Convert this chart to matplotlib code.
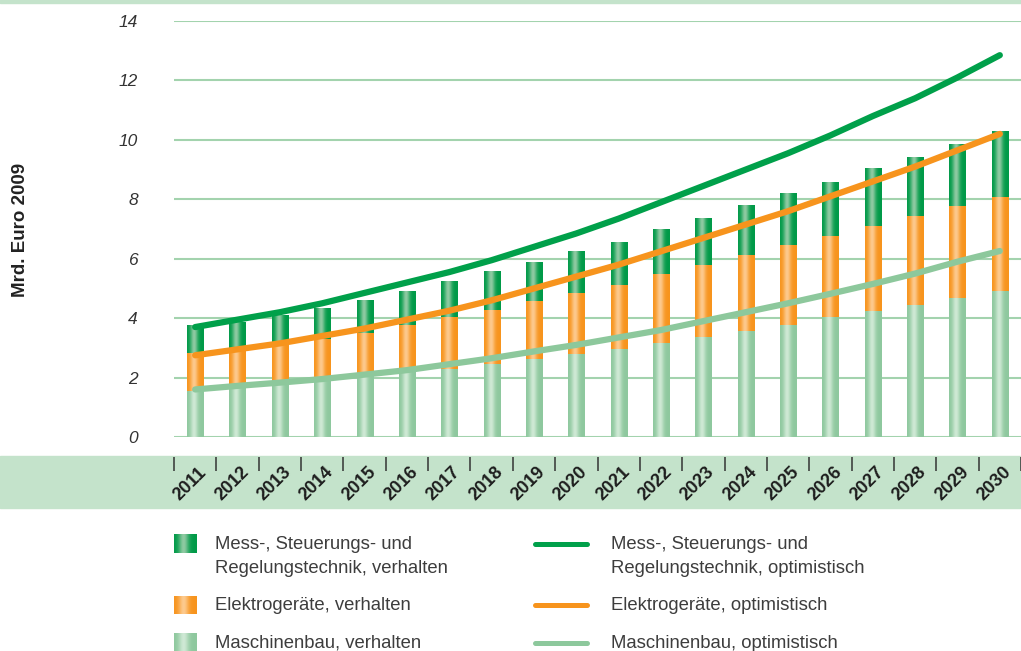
import numpy as np
import matplotlib
matplotlib.use('Agg')
import matplotlib.pyplot as plt
from matplotlib.patches import Rectangle
from matplotlib.lines import Line2D
from matplotlib.transforms import ScaledTranslation

plt.rcParams['font.family'] = ['Liberation Sans', 'DejaVu Sans']

# data (Mrd. Euro 2009)
years = [str(y) for y in range(2011, 2031)]
maschinenbau = [1.55, 1.70, 1.84, 1.97, 2.10, 2.20, 2.30, 2.47, 2.63, 2.80,
                2.96, 3.16, 3.37, 3.57, 3.77, 4.03, 4.24, 4.44, 4.68, 4.91]
elektro = [1.28, 1.23, 1.26, 1.33, 1.40, 1.57, 1.74, 1.80, 1.95, 2.05,
           2.16, 2.34, 2.42, 2.56, 2.69, 2.74, 2.86, 3.00, 3.10, 3.17]
msr = [0.91, 0.94, 0.98, 1.04, 1.08, 1.14, 1.18, 1.28, 1.28, 1.38,
       1.44, 1.50, 1.58, 1.65, 1.72, 1.81, 1.92, 1.98, 2.08, 2.19]
msr_opt = [3.70, 3.95, 4.20, 4.50, 4.85, 5.20, 5.55, 5.95, 6.40, 6.85,
           7.35, 7.90, 8.45, 9.00, 9.55, 10.15, 10.80, 11.40, 12.10, 12.85]
elektro_opt = [2.75, 2.95, 3.15, 3.40, 3.65, 3.95, 4.25, 4.60, 5.00, 5.40,
               5.80, 6.25, 6.70, 7.15, 7.60, 8.10, 8.60, 9.10, 9.65, 10.20]
masch_opt = [1.60, 1.72, 1.83, 1.95, 2.10, 2.25, 2.45, 2.65, 2.88, 3.10,
             3.35, 3.60, 3.90, 4.20, 4.50, 4.82, 5.15, 5.50, 5.90, 6.26]

labels_bar = ['Mess-, Steuerungs- und\nRegelungstechnik, verhalten',
              'Elektrogeräte, verhalten', 'Maschinenbau, verhalten']
labels_line = ['Mess-, Steuerungs- und\nRegelungstechnik, optimistisch',
               'Elektrogeräte, optimistisch', 'Maschinenbau, optimistisch']

# colours: (edge, highlight) for bar gradients, line colours
c_dark = ('#009a48', '#8fcaa2')
c_orange = ('#f7941d', '#fdca8e')
c_light = ('#8ec89e', '#cfe9d5')
line_cols = ['#00a04a', '#f7941d', '#8dc89c']
band = '#c4e3cb'
grid = '#a3d3ae'

W, H = 1021, 651


def gradient(cols, n=64):
    e = np.array(matplotlib.colors.to_rgb(cols[0]))
    h = np.array(matplotlib.colors.to_rgb(cols[1]))
    t = np.linspace(0, 1, n)
    w = np.exp(-((t - 0.42) / 0.22) ** 2)
    return (e[None, :] * (1 - w[:, None]) + h[None, :] * w[:, None])[None, :, :]


fig = plt.figure(figsize=(W / 100, H / 100), dpi=100)
ax = fig.add_axes([174 / W, 1 - 437 / H, 847 / W, 416 / H])

# background bands
fig.patches.append(Rectangle((0, 1 - 3 / H), 1, 3 / H, transform=fig.transFigure,
                             color=band, zorder=-5))
fig.patches.append(Rectangle((0, 1 - 508 / H), 1, 52 / H, transform=fig.transFigure,
                             color=band, zorder=-5))

x = np.arange(len(years))
bw = 0.38
bottoms = np.zeros(len(years))
for vals, cols in [(maschinenbau, c_light), (elektro, c_orange), (msr, c_dark)]:
    g = gradient(cols)
    for i, v in enumerate(vals):
        ax.imshow(g, extent=[x[i] - bw / 2, x[i] + bw / 2, bottoms[i], bottoms[i] + v],
                  aspect='auto', interpolation='bilinear', zorder=2)
    bottoms += np.array(vals)

for vals, c in zip([masch_opt, elektro_opt, msr_opt], line_cols[::-1]):
    ax.plot(x, vals, color=c, lw=4.5, solid_capstyle='round', zorder=3)

ax.set_xlim(-0.5, len(years) - 0.5)
ax.set_ylim(0, 14)
ax.set_yticks(np.arange(0, 15, 2))
ax.set_yticklabels([str(v) for v in range(0, 15, 2)], fontsize=12.5,
                   style='italic', color='#333333')
ax.tick_params(axis='y', length=0, pad=26)
ax.grid(axis='y', color=grid, lw=1.5, zorder=1)
ax.set_axisbelow(True)
ax.patch.set_alpha(0)
for s in ax.spines.values():
    s.set_visible(False)
ax.spines['bottom'].set_position(('outward', 14.4))

ax.set_xticks(x)
ax.set_xticklabels(years, rotation=45, ha='center', va='center',
                   fontsize=13, weight='bold', color='#1e1e1e')
ax.set_xticks(np.arange(len(years) + 1) - 0.5, minor=True)
ax.tick_params(axis='x', which='major', length=0, pad=19.4)
ax.tick_params(axis='x', which='minor', length=10, width=1.1, color='#333333',
               direction='out')
off = ScaledTranslation(-5.5 / 100, 0, fig.dpi_scale_trans)
for lab in ax.get_xticklabels():
    lab.set_transform(lab.get_transform() + off)

fig.text(21 / W, 1 - 230 / H, 'Mrd. Euro 2009', rotation=90, ha='center',
         va='center', fontsize=13.5, weight='bold', color='#222222')

# legend
rows = [(543.5, 556.5), (605, 606), (642.5, 643)]
for (py, ty), cols, lab in zip(rows, [c_dark, c_orange, c_light], labels_bar):
    lax = fig.add_axes([174 / W, 1 - (py + 9.5) / H, 23 / W, 19 / H])
    lax.imshow(gradient(cols), aspect='auto', interpolation='bilinear')
    lax.axis('off')
    fig.text(215 / W, 1 - ty / H, lab, va='center', ha='left', fontsize=13.3,
             color='#3d3d3d', linespacing=1.5)
for (py, ty), c, lab in zip(rows, line_cols, labels_line):
    fig.add_artist(Line2D([534.5 / W, 586.5 / W], [1 - py / H, 1 - py / H],
                          transform=fig.transFigure, lw=3.6, color=c,
                          solid_capstyle='round'))
    fig.text(611 / W, 1 - ty / H, lab, va='center', ha='left', fontsize=13.3,
             color='#3d3d3d', linespacing=1.5)

fig.savefig('out.png', dpi=100)
